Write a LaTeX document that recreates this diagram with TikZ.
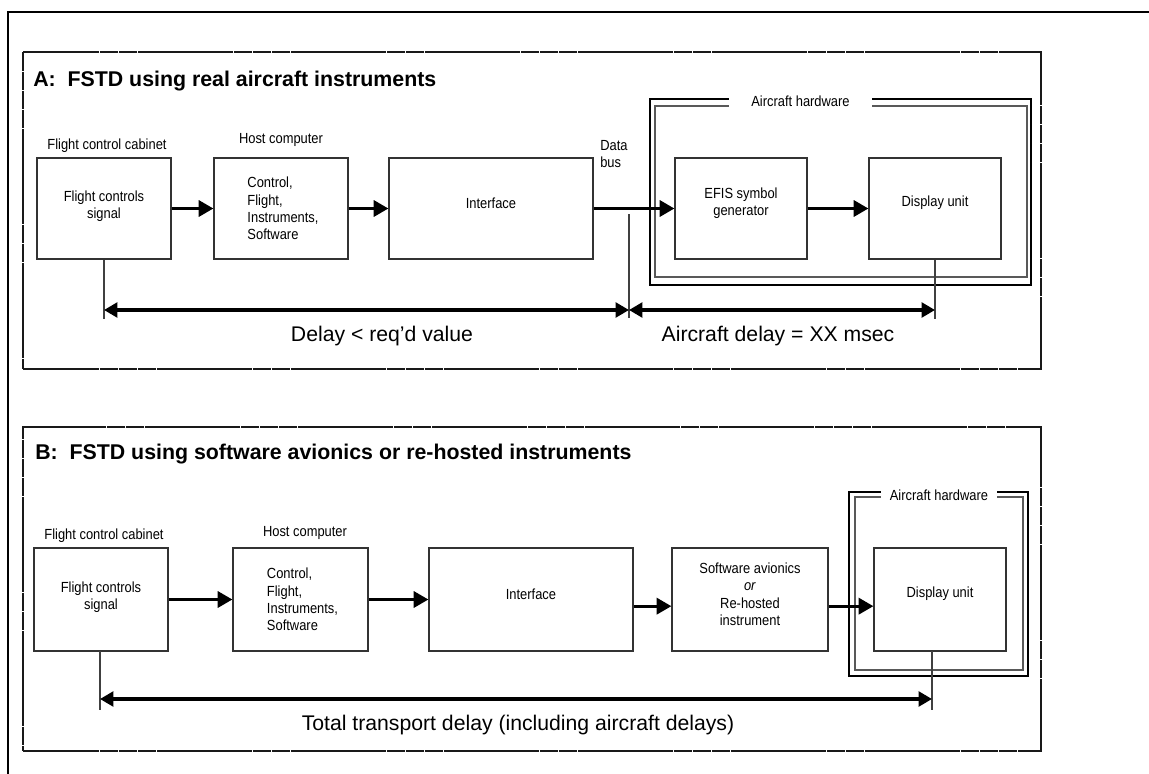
\documentclass[tikz,border=0pt]{standalone}
\usepackage{fontspec}
\setmainfont{Liberation Sans}
\newfontfamily\narrowsans[FakeStretch=0.88]{Liberation Sans}
\usetikzlibrary{arrows.meta,fit}

\begin{document}
\begin{tikzpicture}[x=0.75pt,y=-0.75pt,
  small/.style={font=\narrowsans\fontsize{11}{13}\selectfont},
  lbl/.style={small, inner sep=0pt},
  unit/.style={draw=black!80, line width=0.9pt, inner sep=0pt, small, align=center},
  flow/.style={line width=2.4pt, -{Triangle[length=11pt,width=12pt]}},
  span/.style={line width=2.4pt, {Triangle[length=10pt,width=11pt]}-{Triangle[length=10pt,width=11pt]}},
  tick/.style={line width=0.8pt, draw=black!75},
  panel/.style={draw=black!90, line width=2.1pt, dash pattern=on 14pt off 0.35pt, inner sep=0pt},
  heading/.style={font=\bfseries\fontsize{16}{19}\selectfont, inner sep=0pt, anchor=base west},
  delay/.style={font=\fontsize{15.9}{19}\selectfont, inner sep=0pt, anchor=base},
  hwouter/.style={draw, line width=0.9pt, inner sep=0pt},
  hwinner/.style={draw=black!65, line width=0.9pt, inner sep=0pt},
]
\useasboundingbox (0,0) rectangle (1149,774);

% page frame
\draw[line width=1.1pt] (8,780) -- (8,12) -- (1155,12);

% ---------------- panel A ----------------
\node[panel, fit={(23,52) (1041,369)}] (panelA) {};
\node[heading] (titleA) at (33,86) {A:\ \ FSTD using real aircraft instruments};

\node[hwouter, fit={(650,99) (1031,285)}] (hwA) {};
\node[hwinner, fit={(655,106) (1027,277)}] (hwAi) {};
\node[lbl, fill=white, inner xsep=17pt, inner ysep=5pt] (hwAlbl) at (800.5,101) {Aircraft hardware};

\node[unit, fit={(37,158) (171,259)}] (fcA) {};
\node[lbl, align=center] (fcAtxt) at ([yshift=1.7pt]fcA.center) {Flight controls\\signal};
\node[unit, fit={(214,158) (348,259)}] (hcA) {};
\node[lbl, align=left] (hcAtxt) at ([xshift=1.5pt]hcA.center) {Control,\\Flight,\\Instruments,\\Software};
\node[unit, fit={(389,158) (593,259)}] (intA) {Interface};
\node[unit, fit={(675,158) (807,259)}] (efisA) {EFIS symbol\\generator};
\node[unit, fit={(869,158) (1001,259)}] (dispA) {Display unit};

\node[lbl, anchor=base] (fcAlbl) at (107,149) {Flight control cabinet};
\node[lbl, anchor=base] (hcAlbl) at (281,143) {Host computer};
\node[lbl, anchor=north west, align=left] (busAlbl) at (600,140) {Data\\bus};

\draw[flow] (fcA) -- (hcA);
\draw[flow] (hcA) -- (intA);
\draw[flow] (intA) -- (efisA);
\draw[flow] (efisA) -- (dispA);

\coordinate (busA) at (629,214);
\draw[tick] (fcA.south) -- ++(0,59);
\draw[tick] (busA) -- ++(0,104);
\draw[tick] (dispA.south) -- ++(0,59);
\coordinate (dA1) at (fcA.south |- 0,310);
\coordinate (dA2) at (busA |- 0,310);
\coordinate (dA3) at (dispA.south |- 0,310);
\draw[span] (dA1) -- (dA2);
\draw[span] (dA2) -- (dA3);
\node[delay] (delayA1) at (382,341) {Delay < req’d value};
\node[delay] (delayA2) at (778,341) {Aircraft delay = XX msec};

% ---------------- panel B ----------------
\node[panel, fit={(23,427) (1041,751)}] (panelB) {};
\node[heading] (titleB) at (35,459) {B:\ \ FSTD using software avionics or re-hosted instruments};

\node[hwouter, fit={(849,492) (1028,676)}] (hwB) {};
\node[hwinner, fit={(855,497) (1023,670)}] (hwBi) {};
\node[lbl, fill=white, inner xsep=7pt, inner ysep=5pt] (hwBlbl) at (939,495) {Aircraft hardware};

\node[unit, fit={(34,548) (168,651)}] (fcB) {};
\node[lbl, align=center] (fcBtxt) at ([yshift=1.7pt]fcB.center) {Flight controls\\signal};
\node[unit, fit={(233,548) (368,651)}] (hcB) {};
\node[lbl, align=left] (hcBtxt) at ([xshift=1.5pt]hcB.center) {Control,\\Flight,\\Instruments,\\Software};
\node[unit, fit={(429,548) (633,651)}] (intB) {Interface};
\node[unit, fit={(672,548) (828,651)}] (swB) {Software avionics\\\textit{or}\\Re-hosted\\instrument};
\node[unit, fit={(874,548) (1006,651)}] (dispB) {Display unit};

\node[lbl, anchor=base] (fcBlbl) at (104,539) {Flight control cabinet};
\node[lbl, anchor=base] (hcBlbl) at (305,536) {Host computer};

\draw[flow] (fcB) -- (hcB);
\draw[flow] (hcB) -- (intB);
\draw[flow] ([yshift=-5pt]intB.east) -- ([yshift=-5pt]swB.west);
\draw[flow] ([yshift=-5pt]swB.east) -- ([yshift=-5pt]dispB.west);

\coordinate (tB1) at (100,651);
\coordinate (tB2) at (932,651);
\draw[tick] (tB1) -- ++(0,59);
\draw[tick] (tB2) -- ++(0,59);
\coordinate (dB1) at (100,699);
\coordinate (dB2) at (932,699);
\draw[span] (dB1) -- (dB2);
\node[delay] (delayB) at (518,730) {Total transport delay (including aircraft delays)};
\end{tikzpicture}
\end{document}
